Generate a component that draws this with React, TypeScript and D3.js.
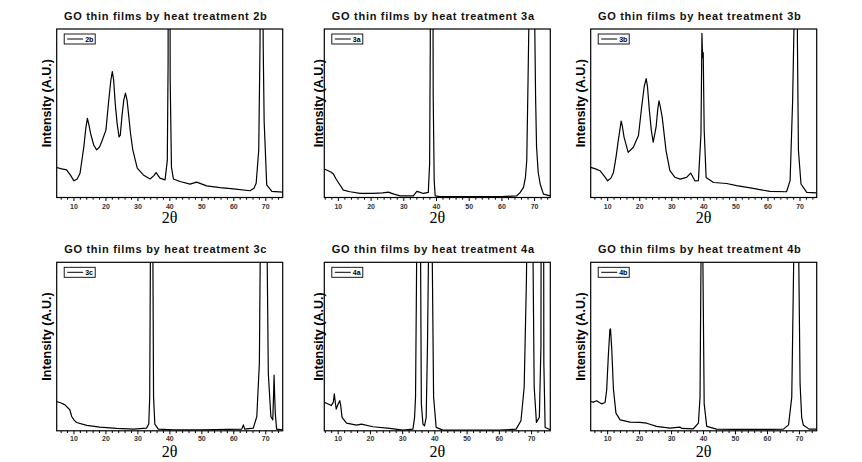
import React, { useEffect, useRef } from 'react';
import * as d3 from 'd3';

// XRD patterns: [2θ, relative intensity] (1 = top of frame, peaks above are clipped)
const s2b: [number, number][] = [
  [4.6, 0.178], [6.2, 0.17], [7.7, 0.164], [9.0, 0.13], [10.0, 0.099], [11.0, 0.11], [11.9, 0.144],
  [13.1, 0.302], [13.7, 0.41], [14.2, 0.47], [14.7, 0.43], [15.2, 0.38], [16.2, 0.31], [17.1, 0.283],
  [18.0, 0.3], [18.7, 0.332], [20.0, 0.4], [20.9, 0.58], [21.5, 0.69], [22.0, 0.747], [22.4, 0.7],
  [22.9, 0.56], [23.5, 0.44], [24.1, 0.36], [24.5, 0.37], [25.0, 0.48], [25.6, 0.58], [26.1, 0.62],
  [26.6, 0.58], [27.1, 0.49], [27.7, 0.38], [28.4, 0.283], [29.8, 0.174], [31.7, 0.134], [33.8, 0.11],
  [35.0, 0.13], [35.7, 0.148], [36.9, 0.115], [38.5, 0.105], [39.2, 0.22], [39.45, 0.8], [39.6, 3],
  [39.9, 3], [40.1, 0.7], [40.5, 0.18], [41.1, 0.11], [43.2, 0.095], [46.3, 0.079], [48.4, 0.091],
  [51.5, 0.069], [55.7, 0.059], [59.9, 0.051], [65.1, 0.04], [66.3, 0.055], [67.0, 0.085], [67.8, 0.28],
  [68.2, 0.9], [68.7, 3], [69.2, 0.9], [69.5, 0.45], [70.3, 0.075], [71.9, 0.036], [75.3, 0.032],
];

const s3a: [number, number][] = [
  [5.7, 0.169], [6.9, 0.159], [7.8, 0.15], [8.5, 0.139], [9.3, 0.11], [10.0, 0.089], [11.5, 0.044],
  [13.6, 0.034], [16.6, 0.024], [20.7, 0.024], [23.5, 0.028], [25.3, 0.032], [27.0, 0.02], [28.9, 0.01],
  [32.9, 0.01], [34.0, 0.036], [35.0, 0.03], [36.0, 0.024], [37.5, 0.03], [37.9, 0.2], [38.1, 0.9],
  [38.3, 3], [38.7, 3], [39.0, 0.6], [39.3, 0.1], [39.6, 0.01], [41.1, 0.005], [50, 0.005], [60, 0.005],
  [64.5, 0.01], [65.6, 0.03], [66.6, 0.06], [67.2, 0.12], [67.6, 0.22], [68.0, 0.7], [68.3, 1.1],
  [69.2, 3], [70.0, 1.1], [70.3, 0.6], [70.6, 0.3], [71.1, 0.15], [71.7, 0.08], [72.7, 0.02], [74.8, 0.01],
];

const s3b: [number, number][] = [
  [4.7, 0.179], [6.2, 0.17], [7.6, 0.159], [9.0, 0.125], [10.0, 0.099], [11.0, 0.115], [11.8, 0.149],
  [12.6, 0.24], [13.3, 0.338], [14.2, 0.453], [14.6, 0.42], [15.1, 0.358], [16.4, 0.268], [18.0, 0.298],
  [19.6, 0.368], [20.6, 0.537], [21.4, 0.66], [22.0, 0.706], [22.4, 0.66], [23.0, 0.517], [23.6, 0.4],
  [24.2, 0.328], [25.1, 0.417], [25.6, 0.52], [26.0, 0.573], [26.4, 0.54], [27.0, 0.477], [28.2, 0.278],
  [29.4, 0.159], [31.0, 0.12], [32.6, 0.109], [34.6, 0.119], [35.9, 0.145], [37.2, 0.099], [38.3, 0.1],
  [39.1, 0.378], [39.4, 0.974], [39.6, 0.83], [39.8, 0.86], [40.1, 0.4], [40.7, 0.119], [43.0, 0.089],
  [47.1, 0.083], [50.2, 0.07], [55.4, 0.054], [60.6, 0.036], [65.8, 0.034], [66.9, 0.1], [67.7, 0.58],
  [68.1, 1.0], [68.7, 3], [69.2, 0.9], [69.5, 0.28], [70.3, 0.08], [72.1, 0.03], [75.2, 0.028],
];

const s3c: [number, number][] = [
  [4.6, 0.174], [6.0, 0.165], [7.2, 0.154], [8.7, 0.125], [9.3, 0.085], [10.0, 0.065], [10.8, 0.049],
  [14.0, 0.032], [18.1, 0.022], [23.4, 0.014], [28.6, 0.01], [32.7, 0.016], [33.4, 0.04], [33.7, 0.2],
  [33.9, 1.0], [34.3, 3], [34.7, 1.0], [34.9, 0.2], [35.3, 0.04], [36.4, 0.01], [41.1, 0.006], [50, 0.006],
  [62.5, 0.01], [63.0, 0.035], [63.4, 0.01], [66.1, 0.016], [67.2, 0.085], [68.0, 0.4], [68.3, 1.1],
  [69.3, 3], [70.4, 1.1], [70.8, 0.34], [71.6, 0.085], [72.2, 0.065], [72.5, 0.25], [72.6, 0.33],
  [72.8, 0.2], [73.0, 0.1], [73.4, 0.01], [75.3, 0.006],
];

const s4a: [number, number][] = [
  [5.7, 0.169], [6.9, 0.159], [7.9, 0.15], [8.5, 0.17], [8.8, 0.219], [9.1, 0.17], [9.4, 0.129],
  [10.0, 0.159], [10.5, 0.179], [10.8, 0.15], [11.2, 0.08], [12.6, 0.046], [15.7, 0.034], [17.2, 0.04],
  [20.8, 0.024], [26.0, 0.014], [30.1, 0.004], [33.2, 0.01], [33.7, 0.08], [34.0, 0.2], [34.3, 0.9],
  [35.0, 3], [35.6, 0.9], [35.8, 0.16], [36.3, 0.04], [36.8, 0.03], [37.3, 0.08], [37.7, 0.5],
  [38.0, 1.0], [38.6, 3], [39.2, 1.0], [39.6, 0.2], [40.4, 0.02], [42.5, 0.004], [50, 0.004], [60, 0.004],
  [65.2, 0.01], [66.7, 0.06], [67.7, 0.26], [68.4, 0.9], [69.5, 3], [70.5, 0.9], [70.8, 0.26],
  [71.5, 0.05], [72.4, 0.08], [72.9, 0.5], [73.1, 3], [73.6, 3], [73.8, 0.4], [74.2, 0.02], [75.8, 0.006],
];

const s4b: [number, number][] = [
  [4.7, 0.174], [5.5, 0.17], [6.6, 0.178], [7.4, 0.168], [8.1, 0.16], [9.2, 0.168], [9.7, 0.243],
  [10.2, 0.44], [10.7, 0.6], [10.9, 0.605], [11.3, 0.48], [11.8, 0.25], [12.6, 0.105], [13.9, 0.065],
  [17.0, 0.051], [20.1, 0.05], [22.2, 0.045], [25.3, 0.026], [29.5, 0.016], [32.6, 0.022], [33.2, 0.014],
  [36.8, 0.012], [38.4, 0.045], [38.9, 0.2], [39.2, 1.0], [39.4, 3], [39.6, 3], [39.8, 1.0], [40.2, 0.16],
  [41.0, 0.026], [44.1, 0.01], [50, 0.008], [60, 0.008], [65.0, 0.01], [66.6, 0.035], [67.6, 0.2],
  [68.2, 1.0], [69.0, 3], [69.8, 1.0], [70.2, 0.28], [70.7, 0.08], [71.2, 0.035], [73.0, 0.01], [75.4, 0.01],
];

const panelNames = ['2b', '3a', '3b', '3c', '4a', '4b'];
const panelSeries = [s2b, s3a, s3b, s3c, s4a, s4b];
const panelDomains: [number, number][] = [
  [4.6, 75.3], [5.7, 74.8], [4.7, 75.2], [4.6, 75.3], [5.7, 75.8], [4.7, 75.4],
];
const xTicks = [10, 20, 30, 40, 50, 60, 70];
const titlePrefix = 'GO thin films by heat treatment ';
const yTitle = 'Intensity (A.U.)';
const xTitle = '2θ';

const App = () => {
  const svgRef = useRef<SVGSVGElement | null>(null);

  useEffect(() => {
    const svg = d3.select(svgRef.current);
    svg.selectAll('*').remove();

    const lefts = [56.7, 324.3, 590.7];
    const tops = [29, 262.3];
    const w = 226;
    const h = 168.5;
    const yLabelGap = [10, 6, 10];
    const xTitleOffset = [25, 26];
    const tickLabelOffset = [11.5, 10];

    panelNames.forEach((name, i) => {
      const col = i % 3;
      const row = Math.floor(i / 3);
      const left = lefts[col];
      const top = tops[row];
      const bottom = top + h;

      const x = d3.scaleLinear().domain(panelDomains[i]).range([left, left + w]);
      const y = d3.scaleLinear().domain([0, 1]).range([bottom, top]);

      const clipId = `clip-${i}`;
      svg
        .append('clipPath')
        .attr('id', clipId)
        .append('rect')
        .attr('x', left)
        .attr('y', top)
        .attr('width', w)
        .attr('height', h);

      // data line
      const line = d3
        .line<[number, number]>()
        .x(d => x(d[0]))
        .y(d => y(d[1]));

      svg
        .append('path')
        .datum(panelSeries[i])
        .attr('clip-path', `url(#${clipId})`)
        .attr('fill', 'none')
        .attr('stroke', '#000')
        .attr('stroke-width', 1.2)
        .attr('stroke-linejoin', 'round')
        .attr('d', line);

      // frame
      svg
        .append('rect')
        .attr('x', left)
        .attr('y', top)
        .attr('width', w)
        .attr('height', h)
        .attr('fill', 'none')
        .attr('stroke', '#000')
        .attr('stroke-width', 1.2);

      // x axis ticks (major every 10, minor every 2)
      const minor = d3.range(6, 76, 2).filter(v => v >= panelDomains[i][0] && v <= panelDomains[i][1]);
      svg
        .append('g')
        .selectAll('line')
        .data(minor)
        .enter()
        .append('line')
        .attr('x1', d => x(d))
        .attr('x2', d => x(d))
        .attr('y1', bottom)
        .attr('y2', d => bottom + (d % 10 === 0 ? 3.5 : 2.2))
        .attr('stroke', '#000')
        .attr('stroke-width', 1);

      svg
        .append('g')
        .selectAll('text')
        .data(xTicks)
        .enter()
        .append('text')
        .attr('x', d => x(d))
        .attr('y', bottom + tickLabelOffset[row])
        .attr('text-anchor', 'middle')
        .style('font-family', 'Arial, "Liberation Sans", sans-serif')
        .style('font-size', '7px')
        .style('font-weight', 'bold')
        .attr('fill', '#333')
        .text(d => d);

      // x title
      svg
        .append('text')
        .attr('x', left + w / 2)
        .attr('y', bottom + xTitleOffset[row])
        .attr('text-anchor', 'middle')
        .style('font-family', '"Times New Roman", "Liberation Serif", serif')
        .style('font-size', '16px')
        .attr('fill', '#000')
        .text(xTitle);

      // y title
      svg
        .append('text')
        .attr('transform', `translate(${left - yLabelGap[col]}, ${top + h / 2 - 10}) rotate(-90)`)
        .attr('text-anchor', 'middle')
        .attr('dy', '0.35em')
        .style('font-family', 'Arial, "Liberation Sans", sans-serif')
        .style('font-size', '12.5px')
        .style('font-weight', 'bold')
        .attr('fill', '#000')
        .text(yTitle);

      // panel title
      svg
        .append('text')
        .attr('x', left + w / 2 - 4)
        .attr('y', top - 9)
        .attr('text-anchor', 'middle')
        .style('font-family', 'Arial, "Liberation Sans", sans-serif')
        .style('font-size', '11px')
        .style('font-weight', 'bold')
        .style('letter-spacing', '0.7px')
        .attr('fill', '#111')
        .text(titlePrefix + name);

      // legend
      const lx = left + 7.5;
      const ly = top + 5;
      svg
        .append('rect')
        .attr('x', lx)
        .attr('y', ly)
        .attr('width', 31)
        .attr('height', 10)
        .attr('fill', '#fff')
        .attr('stroke', '#000')
        .attr('stroke-width', 0.9);
      svg
        .append('line')
        .attr('x1', lx + 3)
        .attr('x2', lx + 19)
        .attr('y1', ly + 5)
        .attr('y2', ly + 5)
        .attr('stroke', '#000')
        .attr('stroke-width', 1);
      svg
        .append('text')
        .attr('x', lx + 21)
        .attr('y', ly + 7.5)
        .style('font-family', 'Arial, "Liberation Sans", sans-serif')
        .style('font-size', '7px')
        .style('font-weight', 'bold')
        .attr('fill', '#000')
        .text(name);
    });
  }, []);

  return (
    <svg
      ref={svgRef}
      width={862}
      height={462}
      style={{ position: 'absolute', left: 0, top: 0, background: '#fff' }}
    />
  );
};

export default App;
